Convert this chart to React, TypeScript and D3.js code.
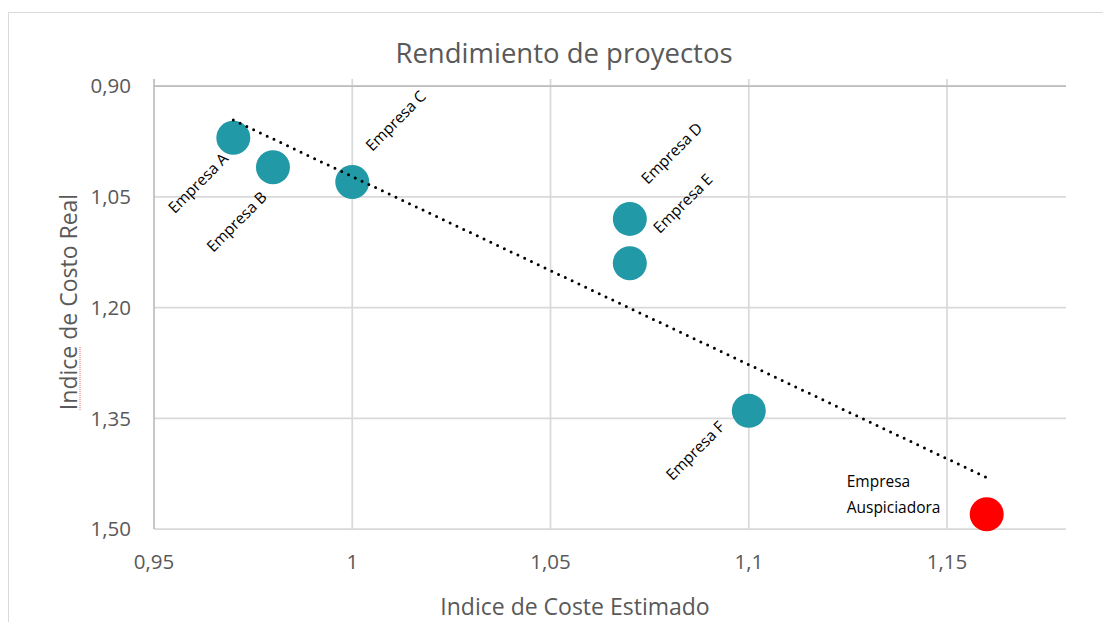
import { line, scaleLinear, select, format, extent } from "d3";
import { useEffect, useRef } from "react";

const companies = [
  "Empresa A",
  "Empresa B",
  "Empresa C",
  "Empresa D",
  "Empresa E",
  "Empresa F",
  "Empresa Auspiciadora",
];
const estimatedCost = [0.97, 0.98, 1.0, 1.07, 1.07, 1.1, 1.16];
const realCost = [0.97, 1.01, 1.03, 1.08, 1.14, 1.34, 1.48];

const xTicks = [0.95, 1, 1.05, 1.1, 1.15];
const yTicks = [0.9, 1.05, 1.2, 1.35, 1.5];

// label placement: offset from point, anchor, rotated or not
const labelPos: Record<string, { dx: number; dy: number; anchor: string; rot: number }> = {
  "Empresa A": { dx: -4, dy: 22, anchor: "end", rot: -45 },
  "Empresa B": { dx: -5, dy: 31, anchor: "end", rot: -45 },
  "Empresa C": { dx: 20, dy: -30, anchor: "start", rot: -45 },
  "Empresa D": { dx: 18, dy: -34, anchor: "start", rot: -45 },
  "Empresa E": { dx: 30, dy: -29, anchor: "start", rot: -45 },
  "Empresa F": { dx: -23, dy: 17, anchor: "end", rot: -45 },
};

const W = 1103;
const H = 622;
const FONT = "'Open Sans', 'Noto Sans', sans-serif";

const App = () => {
  const ref = useRef<SVGSVGElement>(null);

  useEffect(() => {
    if (!ref.current) return;
    const svg = select(ref.current);
    svg.selectAll("*").remove();

    const left = 154;
    const right = 1066;
    const top = 86;
    const bottom = 529;

    const x = scaleLinear().domain([0.95, 1.18]).range([left, right]);
    const y = scaleLinear().domain([0.9, 1.5]).range([top, bottom]);

    const fmtY = (d: number) => format(".2f")(d).replace(".", ",");
    const fmtX = (d: number) => String(+d.toFixed(2)).replace(".", ",");

    // chart border
    svg
      .append("rect")
      .attr("x", 8.5)
      .attr("y", 12.5)
      .attr("width", 1110)
      .attr("height", 640)
      .attr("fill", "#fff")
      .attr("stroke", "#d9d9d9");

    svg
      .append("text")
      .attr("x", 564)
      .attr("y", 63)
      .attr("text-anchor", "middle")
      .attr("font-family", FONT)
      .attr("font-size", 27.5)
      .attr("fill", "#595959")
      .text("Rendimiento de proyectos");

    // grid
    svg
      .append("g")
      .selectAll("line")
      .data(yTicks)
      .join("line")
      .attr("x1", left)
      .attr("x2", right)
      .attr("y1", (d) => y(d))
      .attr("y2", (d) => y(d))
      .attr("stroke", "#d9d9d9")
      .attr("stroke-width", 1.75);

    svg
      .append("g")
      .selectAll("line")
      .data(xTicks)
      .join("line")
      .attr("x1", (d) => x(d))
      .attr("x2", (d) => x(d))
      .attr("y1", top - 7)
      .attr("y2", bottom)
      .attr("stroke", (d, i) => (i === 0 ? "#bfbfbf" : "#d9d9d9"))
      .attr("stroke-width", 1.75);

    // top axis line
    svg
      .append("line")
      .attr("x1", left)
      .attr("x2", right)
      .attr("y1", top)
      .attr("y2", top)
      .attr("stroke", "#bfbfbf")
      .attr("stroke-width", 1.75);

    // tick labels
    svg
      .append("g")
      .selectAll("text")
      .data(yTicks)
      .join("text")
      .attr("x", 131)
      .attr("y", (d) => y(d))
      .attr("dy", "0.36em")
      .attr("text-anchor", "end")
      .attr("font-family", FONT)
      .attr("font-size", 20.5)
      .attr("fill", "#595959")
      .text(fmtY);

    svg
      .append("g")
      .selectAll("text")
      .data(xTicks)
      .join("text")
      .attr("x", (d) => x(d))
      .attr("y", 569)
      .attr("text-anchor", "middle")
      .attr("font-family", FONT)
      .attr("font-size", 20.5)
      .attr("fill", "#595959")
      .text(fmtX);

    // axis titles
    svg
      .append("text")
      .attr("x", 575)
      .attr("y", 615)
      .attr("text-anchor", "middle")
      .attr("font-family", FONT)
      .attr("font-size", 23)
      .attr("fill", "#595959")
      .text("Indice de Coste Estimado");

    const yTitle = svg
      .append("text")
      .attr("transform", `translate(77,302) rotate(-90)`)
      .attr("text-anchor", "middle")
      .attr("font-family", FONT)
      .attr("font-size", 23)
      .attr("fill", "#595959")
      .text("Indice de Costo Real");

    // spell-check squiggle under "Indice"
    const tl = (yTitle.node() as SVGTextElement).getComputedTextLength();
    svg
      .append("line")
      .attr("x1", 80)
      .attr("x2", 80)
      .attr("y1", 302 + tl / 2)
      .attr("y2", 302 + tl / 2 - 64)
      .attr("stroke", "#e06060")
      .attr("stroke-width", 1)
      .attr("stroke-dasharray", "1 1");

    // trendline (least squares)
    const n = estimatedCost.length;
    const mx = estimatedCost.reduce((a, b) => a + b, 0) / n;
    const my = realCost.reduce((a, b) => a + b, 0) / n;
    let sxy = 0;
    let sxx = 0;
    estimatedCost.forEach((v, i) => {
      sxy += (v - mx) * (realCost[i] - my);
      sxx += (v - mx) * (v - mx);
    });
    const slope = sxy / sxx;
    const [x0, x1] = extent(estimatedCost) as [number, number];
    const trend: [number, number][] = [
      [x0, my + slope * (x0 - mx)],
      [x1, my + slope * (x1 - mx)],
    ];

    // points
    svg
      .append("g")
      .selectAll("circle")
      .data(companies)
      .join("circle")
      .attr("cx", (_, i) => x(estimatedCost[i]))
      .attr("cy", (_, i) => y(realCost[i]))
      .attr("r", 17)
      .attr("fill", (_, i) => (i === companies.length - 1 ? "#ff0000" : "#2199a6"));

    svg
      .append("path")
      .attr(
        "d",
        line<[number, number]>()
          .x((d) => x(d[0]))
          .y((d) => y(d[1]))(trend)
      )
      .attr("fill", "none")
      .attr("stroke", "#000")
      .attr("stroke-width", 3)
      .attr("stroke-linecap", "round")
      .attr("stroke-dasharray", "0 7.5");

    // labels
    companies.forEach((name, i) => {
      const px = x(estimatedCost[i]);
      const py = y(realCost[i]);
      const p = labelPos[name];
      if (p) {
        svg
          .append("text")
          .attr("transform", `translate(${px + p.dx},${py + p.dy}) rotate(${p.rot})`)
          .attr("text-anchor", p.anchor)
          .attr("font-family", FONT)
          .attr("font-size", 15.5)
          .attr("fill", "#000")
          .text(name);
      } else {
        const words = name.split(" ");
        svg
          .append("text")
          .attr("font-family", FONT)
          .attr("font-size", 15.5)
          .attr("fill", "#000")
          .selectAll("tspan")
          .data(words)
          .join("tspan")
          .attr("x", px - 140)
          .attr("y", (_, k) => py - 27 + k * 26)
          .text((d) => d);
      }
    });
  }, []);

  return (
    <div>
      <svg
        ref={ref}
        width={W}
        height={H}
        style={{ position: "absolute", left: 0, top: 0, background: "#fff" }}
      />
    </div>
  );
};

export default App;
